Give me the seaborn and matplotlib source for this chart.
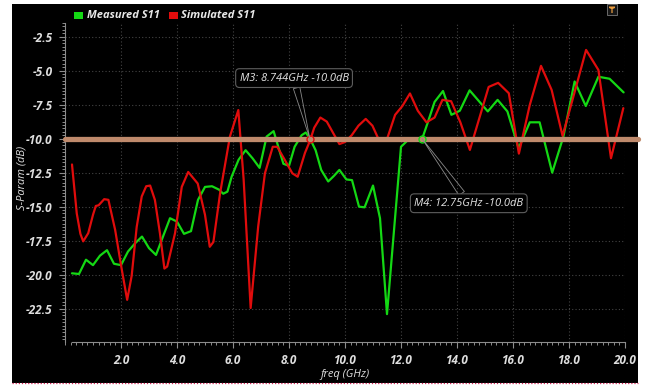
import matplotlib
matplotlib.use("Agg")
import matplotlib.pyplot as plt
import seaborn as sns
from matplotlib.patches import Rectangle, Polygon
from matplotlib.lines import Line2D
from matplotlib.ticker import MultipleLocator, FormatStrFormatter

# ---- data -----------------------------------------------------------------
freq_measured = [0.25, 0.5, 0.75, 1.0, 1.25, 1.5, 1.75, 2.0, 2.25, 2.5, 2.75, 3.0,
                 3.25, 3.5, 3.75, 4.0, 4.25, 4.5, 4.75, 5.0, 5.25, 5.5, 5.65, 5.8,
                 5.95, 6.2, 6.45, 6.7, 6.95, 7.2, 7.45, 7.8, 8.0, 8.2, 8.45, 8.6,
                 8.75, 8.95, 9.15, 9.4, 9.6, 9.8, 10.05, 10.25, 10.5, 10.7, 11.0,
                 11.25, 11.5, 12.0, 12.25, 12.5, 12.75, 12.95, 13.2, 13.5, 13.8,
                 14.1, 14.45, 15.1, 15.45, 15.8, 16.2, 16.6, 16.95, 17.4, 17.8,
                 18.2, 18.6, 19.05, 19.45, 19.95]
s11_measured = [-19.9, -19.95, -18.9, -19.3, -18.6, -18.2, -19.2, -19.3, -18.3,
                -17.7, -17.2, -18.05, -18.55, -17.2, -15.85, -16.1, -17.0, -16.8,
                -14.5, -13.55, -13.5, -13.75, -14.05, -13.9, -12.8, -11.55, -10.85,
                -11.45, -12.15, -9.85, -9.45, -11.85, -12.0, -10.6, -9.75, -9.55,
                -10.0, -10.85, -12.3, -13.15, -12.75, -12.3, -13.0, -13.05, -15.0,
                -15.05, -13.45, -15.85, -22.9, -10.6, -10.1, -10.15, -10.05, -8.85,
                -7.3, -6.5, -8.25, -7.95, -6.45, -8.0, -7.15, -8.0, -10.7, -8.8,
                -8.8, -12.5, -9.85, -5.8, -7.6, -5.45, -5.6, -6.6]

freq_simulated = [0.25, 0.42, 0.55, 0.65, 0.83, 1.0, 1.1, 1.2, 1.4, 1.55, 1.79, 2.03,
                  2.22, 2.38, 2.56, 2.74, 2.9, 3.04, 3.21, 3.39, 3.55, 3.65, 3.93,
                  4.17, 4.4, 4.58, 4.74, 5.0, 5.17, 5.3, 5.54, 5.89, 6.19, 6.38,
                  6.63, 6.9, 7.14, 7.42, 7.58, 7.86, 8.12, 8.31, 8.57, 8.75, 8.9,
                  9.12, 9.35, 9.58, 9.8, 10.0, 10.24, 10.48, 10.74, 10.98, 11.2,
                  11.49, 11.79, 12.05, 12.32, 12.6, 12.91, 13.2, 13.48, 13.79,
                  14.12, 14.46, 15.13, 15.47, 15.85, 16.21, 16.6, 17.0, 17.38,
                  17.77, 18.19, 18.61, 19.05, 19.5, 19.94]
s11_simulated = [-11.9, -15.5, -17.0, -17.55, -16.95, -15.6, -14.95, -14.9, -14.45,
                 -14.5, -16.7, -19.65, -21.85, -20.1, -16.5, -14.25, -13.5, -13.45,
                 -14.5, -16.95, -19.55, -19.4, -16.95, -13.55, -12.45, -12.9, -13.3,
                 -15.6, -17.95, -17.6, -14.0, -9.85, -7.9, -13.0, -22.45, -16.45,
                 -12.55, -10.6, -10.6, -11.6, -12.55, -12.8, -11.05, -10.15, -9.2,
                 -8.45, -8.75, -9.6, -10.4, -10.25, -9.75, -9.05, -8.55, -9.05,
                 -10.05, -10.1, -8.25, -7.6, -6.68, -7.95, -8.8, -8.45, -7.15,
                 -7.25, -8.8, -10.83, -6.2, -5.9, -6.66, -11.1, -7.52, -4.65, -6.42,
                 -9.8, -6.66, -3.48, -4.95, -11.44, -7.76]

series_names = ["Measured S11", "Simulated S11"]
series_colors = ["#14d814", "#e00c0c"]

limit_level = -10.0
marker_freqs = [8.744, 12.75]
marker_labels = ["M3: 8.744GHz -10.0dB", "M4: 12.75GHz -10.0dB"]
marker_series = [1, 0]
marker_label_pos = [(8.18, -5.55), (14.42, -14.75)]

x_ticks = [2.0, 4.0, 6.0, 8.0, 10.0, 12.0, 14.0, 16.0, 18.0, 20.0]
y_ticks = [-22.5, -20.0, -17.5, -15.0, -12.5, -10.0, -7.5, -5.0, -2.5]

# ---- style ----------------------------------------------------------------
sns.set_theme(style="dark", rc={
    "axes.facecolor": "black",
    "figure.facecolor": "white",
    "axes.unicode_minus": False,
})
plt.rcParams["font.family"] = ["Open Sans", "DejaVu Sans"]
plt.rcParams["font.style"] = "italic"
plt.rcParams["font.weight"] = "bold"

W, H = 645, 387
fig = plt.figure(figsize=(W / 100, H / 100), dpi=100, facecolor="white")


def fx(px):
    return px / W


def fy(py):
    return 1 - py / H


# black panel behind the plot
fig.add_artist(Rectangle((fx(12), fy(383)), fx(626), 379 / H,
                         transform=fig.transFigure, facecolor="black",
                         edgecolor="none", zorder=0))
fig.add_artist(Line2D([fx(12), fx(638)], [fy(383), fy(383)],
                      transform=fig.transFigure, color="#d8285a",
                      linestyle=(0, (1, 1.5)), lw=0.9, zorder=1))

ax = fig.add_axes([fx(65), fy(342), 560 / W, 319 / H])
ax.set_facecolor("black")

for f, s, c in zip([freq_measured, freq_simulated],
                   [s11_measured, s11_simulated], series_colors):
    sns.lineplot(x=f, y=s, ax=ax, color=c, lw=1.6, estimator=None, sort=False,
                 zorder=3)

ax.set_xlim(0, 20)
ax.set_ylim(-24.95, -1.5)

# limit line across the panel
ax.axhline(limit_level, xmin=0, xmax=(638 - 65) / 560, color="#bf8a6c",
           lw=3.8, clip_on=False, zorder=4)

# grid and axes
ax.set_xticks(x_ticks)
ax.set_yticks(y_ticks)
ax.xaxis.set_major_formatter(FormatStrFormatter("%.1f"))
ax.yaxis.set_major_formatter(FormatStrFormatter("%.1f"))
ax.xaxis.set_minor_locator(MultipleLocator(0.2))
ax.yaxis.set_minor_locator(MultipleLocator(0.25))
ax.grid(True, which="major", color="#444444", linestyle=(0, (1, 2)), lw=0.8)
ax.set_axisbelow(True)
for side in ["top", "right"]:
    ax.spines[side].set_visible(False)
for side in ["left", "bottom"]:
    ax.spines[side].set_visible(True)
    ax.spines[side].set_color("#8c8c8c")
    ax.spines[side].set_linewidth(0.8)
ax.spines["bottom"].set_bounds(0.25, 20)
ax.tick_params(axis="both", which="both", direction="out", colors="#8c8c8c",
               labelcolor="#dedede", labelsize=8.5, bottom=True, left=True)
ax.tick_params(axis="both", which="major", length=4, width=0.8)
ax.tick_params(axis="both", which="minor", length=2.5, width=0.7)
ax.tick_params(axis="x", pad=5)
ax.tick_params(axis="y", pad=5)

ax.set_xlabel("freq (GHz)", color="#dedede", fontsize=8)
ax.set_ylabel("S-Param (dB)", color="#dedede", fontsize=8)
ax.xaxis.label.set_verticalalignment("center")
ax.yaxis.label.set_verticalalignment("center")
ax.xaxis.set_label_coords(0.5, (fy(375) - fy(342)) / (319 / H))
ax.yaxis.set_label_coords((22 - 65) / 560, (fy(178) - fy(342)) / (319 / H))

# marker callouts
for f0, lab, si, pos in zip(marker_freqs, marker_labels, marker_series,
                            marker_label_pos):
    ax.plot([f0], [limit_level], marker="o", ms=5, mfc="none",
            mec=series_colors[si], mew=1.0, zorder=6)
    ax.annotate(lab, xy=(f0, limit_level), xytext=pos, ha="center",
                va="center", color="#e4e4e4", fontsize=8, fontweight="normal",
                bbox=dict(boxstyle="round,pad=0.35,rounding_size=0.35",
                          fc="black", ec="#5e5e5e", lw=0.8),
                arrowprops=dict(arrowstyle="wedge,tail_width=0.6", fc="none",
                                ec="#8a8a8a", lw=0.6, shrinkA=0, shrinkB=0),
                zorder=7)

# legend row
legend_x = [74, 169]
text_x = [87, 181]
for name, c, lx, tx in zip(series_names, series_colors, legend_x, text_x):
    fig.add_artist(Rectangle((fx(lx), fy(19)), 9 / W, 7 / H,
                             transform=fig.transFigure, facecolor=c,
                             edgecolor="none", zorder=5))
    fig.text(fx(tx), fy(15.5), name, color="#e8e8e8", fontsize=8,
             ha="left", va="center")

# filter button at top right
fig.add_artist(Rectangle((fx(607), fy(15)), 10 / W, 11 / H,
                         transform=fig.transFigure, facecolor="#161616",
                         edgecolor="#6a6a6a", lw=0.7, zorder=5))
fig.add_artist(Polygon([(fx(609), fy(6.5)), (fx(615), fy(6.5)), (fx(615), fy(8)),
                        (fx(612.6), fy(9)), (fx(612.6), fy(13)),
                        (fx(611.4), fy(13)), (fx(611.4), fy(9)), (fx(609), fy(8))],
                       closed=True, transform=fig.transFigure,
                       facecolor="#f0a040", edgecolor="none", zorder=6))

fig.savefig("out.png", dpi=100, facecolor="white")
